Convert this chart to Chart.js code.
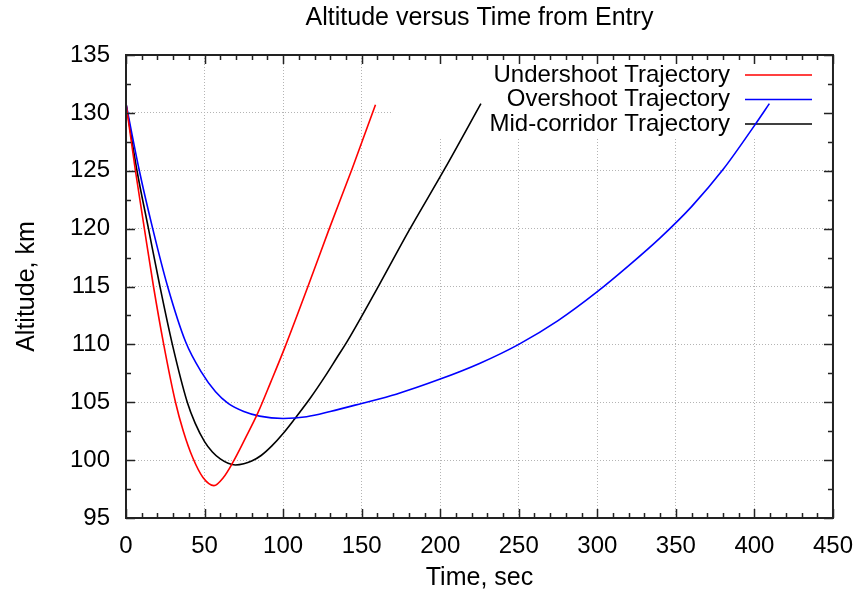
<!DOCTYPE html>
<html>
<head>
<meta charset="utf-8">
<script src="https://cdn.jsdelivr.net/npm/chart.js@4/dist/chart.umd.min.js"></script>
<style>
  html, body { margin: 0; padding: 0; background: #fff; }
  #wrap { width: 867px; height: 593px; }
</style>
</head>
<body>
<div id="wrap"><canvas id="altChart" width="867" height="593"></canvas></div>
<script>
// series: [time sec, altitude km]
const undershoot = [[0,130.8],[6,125],[11.7,120],[17.5,115],[24,110],[31.5,105],[36.5,102.5],[42.5,100.2],[49,98.5],[56,97.8],[62,98.5],[68,99.8],[76,101.9],[84,104.1],[92,106.7],[101,109.7],[115.8,115],[129.4,120],[144,125.2],[158.8,130.7]];
const overshoot = [[0,130.8],[8.5,125],[17,120],[26.5,115],[38,110.2],[48,107.6],[57,105.9],[65,104.9],[75,104.2],[85,103.8],[100,103.6],[115,103.75],[130,104.2],[150,104.9],[172,105.7],[200,107],[225,108.35],[250,110],[275,112.05],[300,114.55],[320,116.8],[340,119.2],[360,121.9],[380,125.1],[400,128.9],[409.5,130.8]];
const midCorridor = [[0,130.8],[7,125],[14.3,120],[21.6,115],[29.5,110],[39,105],[44,103.2],[50,101.6],[55,100.7],[60,100.1],[65,99.73],[69.6,99.58],[75,99.68],[80,99.92],[86,100.4],[93,101.25],[100,102.3],[107,103.5],[117,105.3],[127,107.3],[134,108.8],[141,110.3],[161,115.1],[180,119.8],[203,125.2],[225.9,130.8]];

const seriesNames = ['Undershoot Trajectory', 'Overshoot Trajectory', 'Mid-corridor Trajectory'];
const seriesColors = ['#ff0000', '#0000ff', '#000000'];
const seriesData = [undershoot, overshoot, midCorridor];

const xTicks = [0, 450, 50];   // min, max, step
const yTicks = [95, 135, 5];

const chartTitle = 'Altitude versus Time from Entry';
const FONT = '"Liberation Sans", Arial, sans-serif';

// title centred over the plot box (gnuplot does that, chart.js centres on the canvas)
const plotTitle = {
    id: 'plotTitle',
    afterDraw(chart) {
        const ctx = chart.ctx;
        const area = chart.chartArea;
        ctx.save();
        ctx.font = '25px ' + FONT;
        ctx.fillStyle = '#000';
        ctx.textAlign = 'center';
        ctx.textBaseline = 'middle';
        ctx.fillText(chartTitle, (area.left + area.right) / 2, 18);
        ctx.restore();
    }
};

// gnuplot-like key box, drawn before the curves so they pass over it
const keyPlugin = {
    id: 'keyBox',
    beforeDatasetsDraw(chart) {
        const ctx = chart.ctx;
        const area = chart.chartArea;
        ctx.save();
        ctx.fillStyle = '#ffffff';
        ctx.fillRect(393, area.top + 1, area.right - 394, 137 - area.top);
        ctx.font = '24px ' + FONT;
        ctx.textAlign = 'right';
        ctx.textBaseline = 'middle';
        chart.data.datasets.forEach((ds, i) => {
            const y = 75 + i * 24.5;
            ctx.fillStyle = '#000';
            ctx.fillText(ds.label, 730, y);
            ctx.strokeStyle = ds.borderColor;
            ctx.lineWidth = 1.5;
            ctx.beginPath();
            ctx.moveTo(745, y);
            ctx.lineTo(812, y);
            ctx.stroke();
        });
        ctx.restore();
    }
};

// border + inward major/minor ticks on all four sides
const frameTicks = {
    id: 'frameTicks',
    afterDatasetsDraw(chart) {
        const ctx = chart.ctx;
        const {left, right, top, bottom} = chart.chartArea;
        const xs = chart.scales.x, ys = chart.scales.y;
        ctx.save();
        ctx.strokeStyle = '#222';
        ctx.lineWidth = 1.5;
        for (let v = xTicks[0]; v <= xTicks[1]; v += xTicks[2] / 5) {
            const px = Math.round(xs.getPixelForValue(v)) + 0.5;
            const len = (Math.abs(v % xTicks[2]) < 1e-6) ? 9 : 5;
            ctx.beginPath();
            ctx.moveTo(px, bottom); ctx.lineTo(px, bottom - len);
            ctx.moveTo(px, top); ctx.lineTo(px, top + len);
            ctx.stroke();
        }
        for (let v = yTicks[0]; v <= yTicks[1]; v += yTicks[2] / 2) {
            const py = Math.round(ys.getPixelForValue(v)) + 0.5;
            const len = (Math.abs(v % yTicks[2]) < 1e-6) ? 9 : 5;
            ctx.beginPath();
            ctx.moveTo(left, py); ctx.lineTo(left + len, py);
            ctx.moveTo(right, py); ctx.lineTo(right - len, py);
            ctx.stroke();
        }
        ctx.lineWidth = 2;
        ctx.strokeRect(left, top, right - left, bottom - top);
        ctx.restore();
    }
};

new Chart(document.getElementById('altChart').getContext('2d'), {
    type: 'line',
    data: {
        datasets: seriesData.map((pts, i) => ({
            label: seriesNames[i],
            data: pts.map(p => ({x: p[0], y: p[1]})),
            borderColor: seriesColors[i],
            borderWidth: 1.6,
            pointRadius: 0,
            fill: false,
            cubicInterpolationMode: 'monotone'
        }))
    },
    options: {
        responsive: false,
        animation: false,
        layout: { padding: { left: 0, right: 26, top: 55, bottom: 0 } },
        plugins: {
            legend: { display: false },
            tooltip: { enabled: false },
            title: { display: false }
        },
        scales: {
            x: {
                type: 'linear',
                min: xTicks[0],
                max: xTicks[1],
                afterFit(scale) { scale.height = 75; },
                ticks: { stepSize: xTicks[2], color: '#000', padding: 14, font: { family: FONT, size: 24 } },
                grid: { color: '#b4b4b4', drawTicks: false },
                border: { display: false, dash: [1, 2] },
                title: { display: true, text: 'Time, sec', color: '#000', font: { family: FONT, size: 25 }, padding: { top: 0, bottom: 0 } }
            },
            y: {
                min: yTicks[0],
                max: yTicks[1],
                afterFit(scale) { scale.width = 126; },
                ticks: { stepSize: yTicks[2], color: '#000', padding: 16, font: { family: FONT, size: 24 } },
                grid: { color: '#b4b4b4', drawTicks: false },
                border: { display: false, dash: [1, 2] },
                title: { display: true, text: 'Altitude, km', color: '#000', font: { family: FONT, size: 25 }, padding: { top: 12, bottom: 0 } }
            }
        }
    },
    plugins: [keyPlugin, frameTicks, plotTitle]
});
</script>
</body>
</html>
